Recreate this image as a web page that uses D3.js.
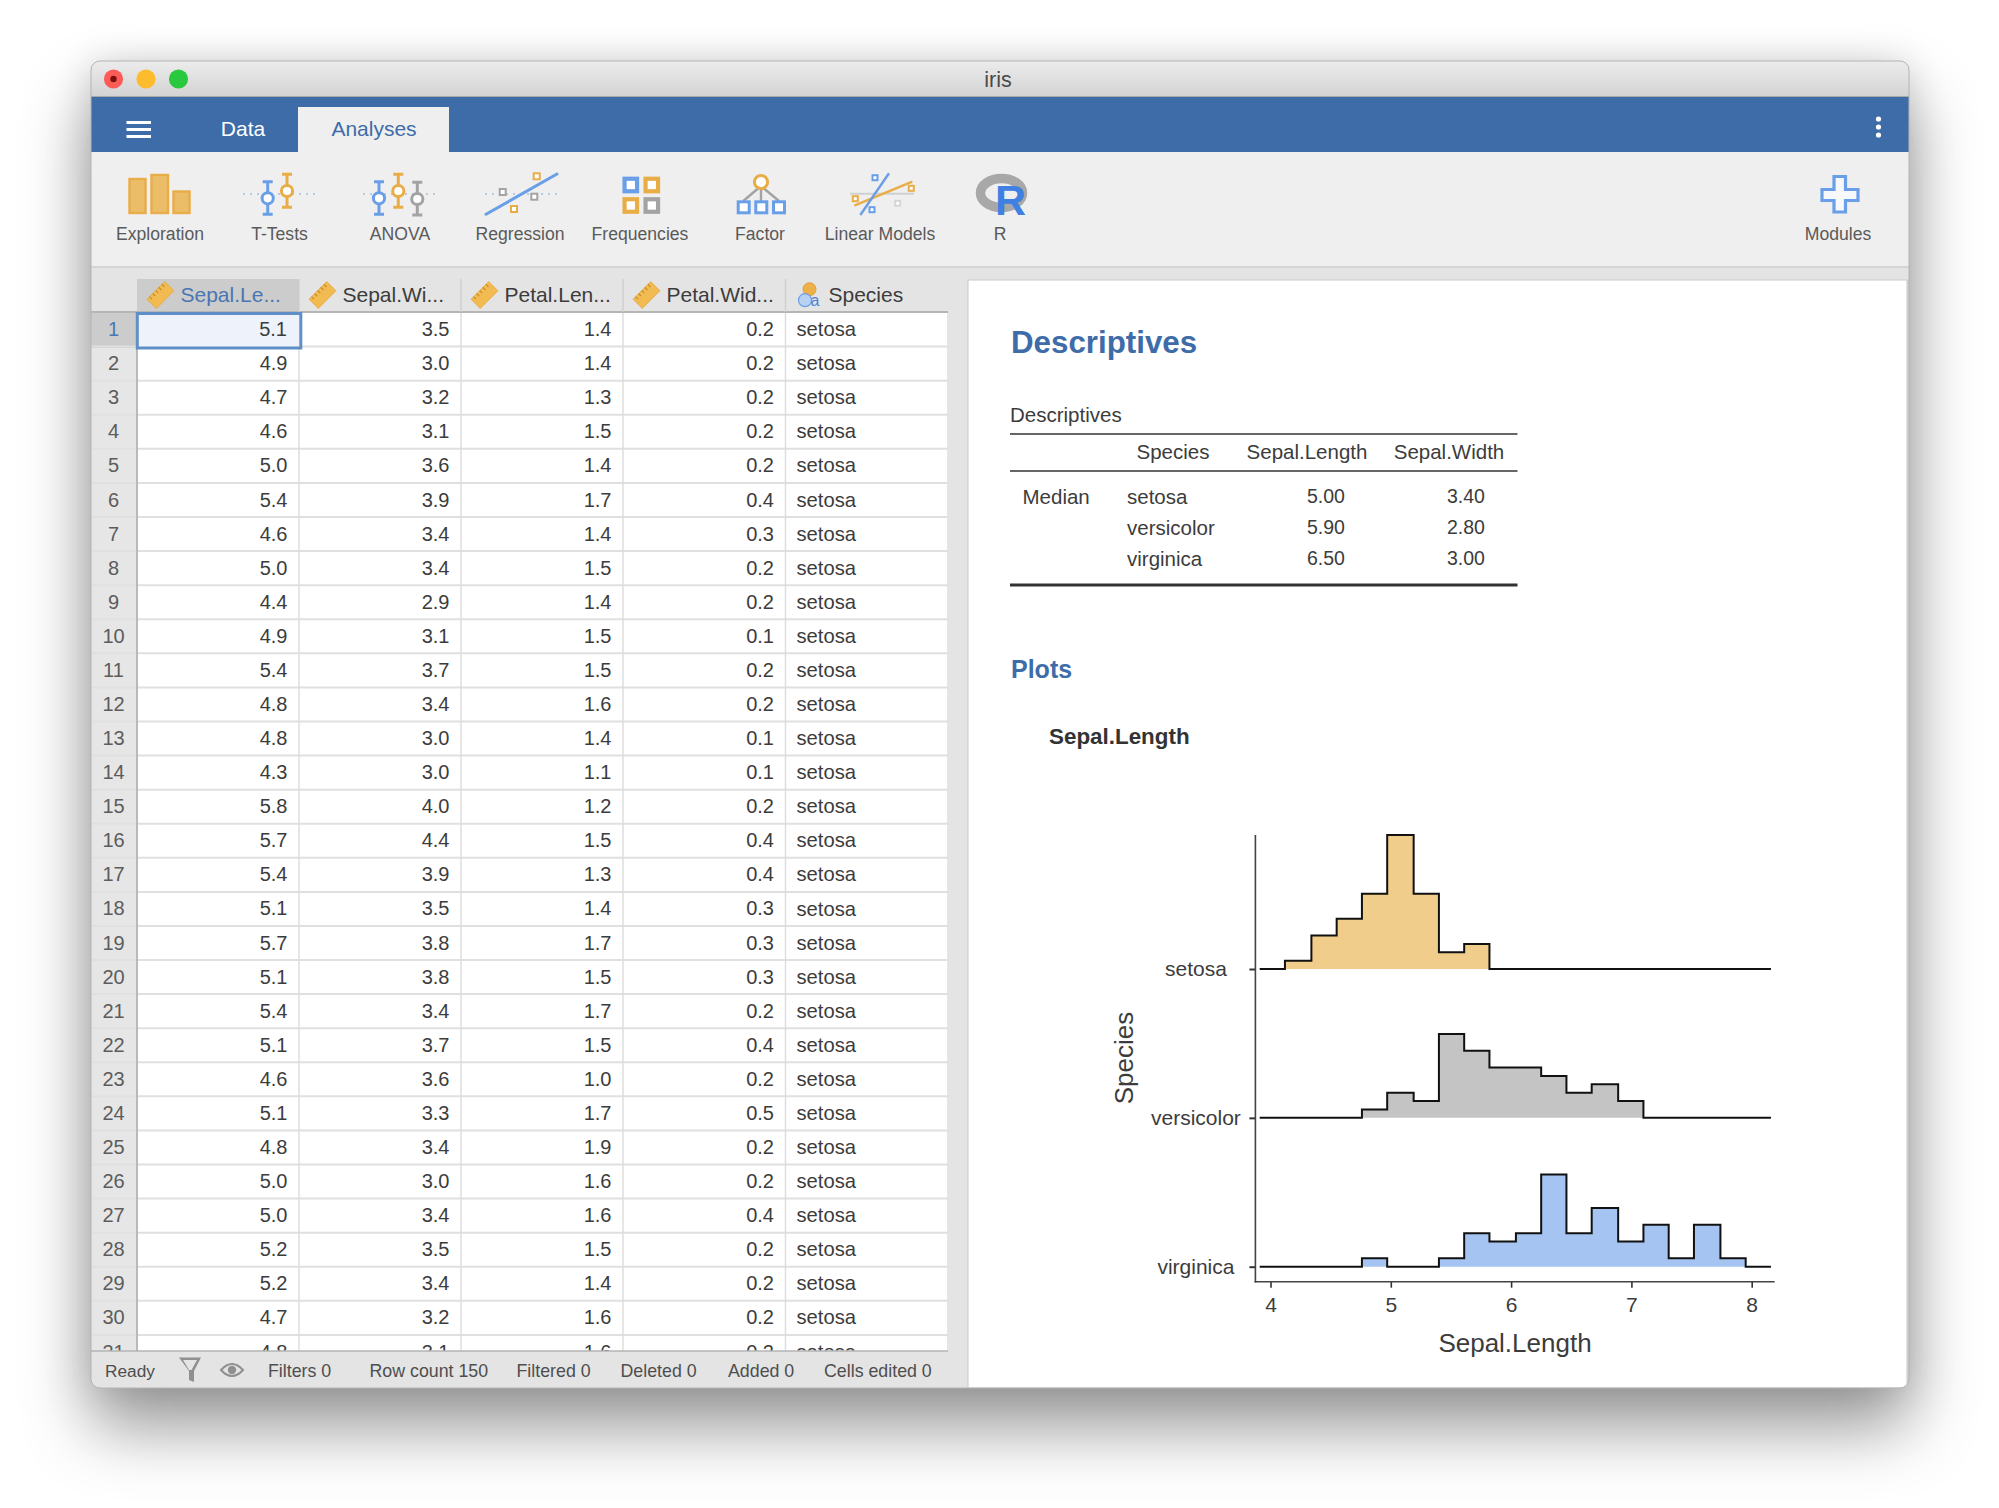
<!DOCTYPE html>
<html>
<head>
<meta charset="utf-8">
<title>iris</title>
<script src="https://cdn.jsdelivr.net/npm/d3@7"></script>
<style>
  html, body { margin: 0; padding: 0; background: #fff; }
  svg { display: block; }
  text { font-family: "Liberation Sans", Arial, sans-serif; }
</style>
</head>
<body>
<div id="app"></div>
<script>
// spreadsheet columns
var columnNames = ["Sepal.Le...", "Sepal.Wi...", "Petal.Len...", "Petal.Wid...", "Species"];
var sepalLength = [5.1,4.9,4.7,4.6,5.0,5.4,4.6,5.0,4.4,4.9,5.4,4.8,4.8,4.3,5.8,5.7,5.4,5.1,5.7,5.1,5.4,5.1,4.6,5.1,4.8,5.0,5.0,5.2,5.2,4.7,4.8];
var sepalWidth  = [3.5,3.0,3.2,3.1,3.6,3.9,3.4,3.4,2.9,3.1,3.7,3.4,3.0,3.0,4.0,4.4,3.9,3.5,3.8,3.8,3.4,3.7,3.6,3.3,3.4,3.0,3.4,3.5,3.4,3.2,3.1];
var petalLength = [1.4,1.4,1.3,1.5,1.4,1.7,1.4,1.5,1.4,1.5,1.5,1.6,1.4,1.1,1.2,1.5,1.3,1.4,1.7,1.5,1.7,1.5,1.0,1.7,1.9,1.6,1.6,1.5,1.4,1.6,1.6];
var petalWidth  = [0.2,0.2,0.2,0.2,0.2,0.4,0.3,0.2,0.2,0.1,0.2,0.2,0.1,0.1,0.2,0.4,0.4,0.3,0.3,0.3,0.2,0.4,0.2,0.5,0.2,0.2,0.4,0.2,0.2,0.2,0.2];

// toolbar + status bar
var toolbarLabels = ["Exploration", "T-Tests", "ANOVA", "Regression", "Frequencies", "Factor", "Linear Models", "R"];
var statusLabels = ["Filters 0", "Row count 150", "Filtered 0", "Deleted 0", "Added 0", "Cells edited 0"];

// descriptives table
var speciesNames = ["setosa", "versicolor", "virginica"];
var medianSepalLength = ["5.00", "5.90", "6.50"];
var medianSepalWidth = ["3.40", "2.80", "3.00"];

// histogram bins
var binEdges = [3.91,4.12,4.34,4.55,4.76,4.97,5.19,5.40,5.61,5.82,6.04,6.25,6.46,6.67,6.89,7.10,7.31,7.52,7.74,7.95,8.16];
var setosaCounts     = [0,1,4,6,9,16,9,2,3,0,0,0,0,0,0,0,0,0,0,0];
var versicolorCounts = [0,0,0,0,1,3,2,10,8,6,6,5,3,4,2,0,0,0,0,0];
var virginicaCounts  = [0,0,0,0,1,0,0,1,4,3,4,11,4,7,3,5,1,5,1,0];
var xTicks = [4, 5, 6, 7, 8];

var BLUE = "#3e6ca8", ORANGE = "#e9ad48", ICONBLUE = "#6a9fe8", GREY = "#a3a3a3", TEXT = "#3c3c3c";
var ridgeFill = { setosa: "#f0cd8b", versicolor: "#c4c4c4", virginica: "#a5c4f1" };
var ridgeCounts = { setosa: setosaCounts, versicolor: versicolorCounts, virginica: virginicaCounts };

var svg = d3.select("#app").append("svg").attr("width", 1999).attr("height", 1508);
var defs = svg.append("defs");

var grad = defs.append("linearGradient").attr("id", "titlebar").attr("x1", 0).attr("x2", 0).attr("y1", 0).attr("y2", 1);
grad.append("stop").attr("offset", "0%").attr("stop-color", "#ececec");
grad.append("stop").attr("offset", "100%").attr("stop-color", "#d3d3d3");

defs.append("clipPath").attr("id", "win").append("rect")
  .attr("x", 91).attr("y", 61).attr("width", 1818).attr("height", 1327).attr("rx", 9);
defs.append("clipPath").attr("id", "gridclip").append("rect")
  .attr("x", 91).attr("y", 312).attr("width", 857).attr("height", 1039);

function rect(g, x, y, w, h, fill) {
  return g.append("rect").attr("x", x).attr("y", y).attr("width", w).attr("height", h).attr("fill", fill);
}
function line(g, x1, y1, x2, y2, stroke, sw) {
  return g.append("line").attr("x1", x1).attr("y1", y1).attr("x2", x2).attr("y2", y2)
    .attr("stroke", stroke).attr("stroke-width", sw);
}
function label(g, x, y, str, size, fill, anchor, weight) {
  return g.append("text").attr("x", x).attr("y", y).attr("dy", "0.36em").text(str)
    .attr("font-size", size).attr("fill", fill)
    .attr("text-anchor", anchor || "start").attr("font-weight", weight || "normal");
}

// window + shadow
rect(svg, 91, 61, 1818, 1327, "#e4e4e4").attr("rx", 9)
  .style("filter", "drop-shadow(0 38px 34px rgba(0,0,0,0.38)) drop-shadow(0 0 18px rgba(0,0,0,0.14))");
var win = svg.append("g").attr("clip-path", "url(#win)");

// title bar
rect(win, 91, 61, 1818, 36, "url(#titlebar)");
line(win, 91, 96.5, 1909, 96.5, "#a9a9a9", 1);
[["#fc5b57", 113.5], ["#fdbc2e", 146], ["#28c83f", 178.5]].forEach(function(d) {
  win.append("circle").attr("cx", d[1]).attr("cy", 79).attr("r", 9.6).attr("fill", d[0]);
});
win.append("circle").attr("cx", 113.5).attr("cy", 79).attr("r", 3.2).attr("fill", "#7c100c");
label(win, 998, 79.5, "iris", 21.5, "#4a4a4a", "middle");

// blue ribbon
rect(win, 91, 97, 1818, 55, BLUE);
[122.5, 129.5, 136.5].forEach(function(y) { line(win, 126.5, y, 151, y, "#fff", 3); });
rect(win, 298, 107, 151, 45, "#efefef");
label(win, 243, 128.5, "Data", 21, "#fff", "middle");
label(win, 374, 128.5, "Analyses", 21, BLUE, "middle");
[119, 127, 135].forEach(function(y) {
  win.append("circle").attr("cx", 1878.5).attr("cy", y).attr("r", 2.6).attr("fill", "#fff");
});

// toolbar
rect(win, 91, 152, 1818, 115, "#efefef");
line(win, 91, 267, 1909, 267, "#d4d4d4", 2);
var labelX = [160, 279.5, 400, 520, 640, 760, 880, 1000];
toolbarLabels.forEach(function(t, i) { label(win, labelX[i], 234, t, 17.6, "#5a5a5a", "middle"); });
label(win, 1838, 234, "Modules", 17.6, "#5a5a5a", "middle");

var icons = win.append("g");
[[129.5, 179, 16, 34], [151.5, 175, 16.5, 38], [173.5, 191.5, 16, 21.5]].forEach(function(b) {
  rect(icons, b[0], b[1], b[2], b[3], "#ecbd69").attr("stroke", ORANGE).attr("stroke-width", 2.4);
});
function dotted(x1, x2, y) {
  line(icons, x1, y, x2, y, "#a9bfd9", 1.6).attr("stroke-dasharray", "2 5");
}
function whisker(x, y1, y2, cy, col) {
  line(icons, x, y1, x, y2, col, 3);
  line(icons, x - 5, y1, x + 5, y1, col, 3);
  line(icons, x - 5, y2, x + 5, y2, col, 3);
  icons.append("circle").attr("cx", x).attr("cy", cy).attr("r", 5.6).attr("fill", "#fff").attr("stroke", col).attr("stroke-width", 3);
}
function sq(cx, cy, s, col, sw) {
  rect(icons, cx - s / 2, cy - s / 2, s, s, "#fff").attr("stroke", col).attr("stroke-width", sw);
}
dotted(243, 316, 194);
whisker(267.7, 181.7, 214.3, 198.3, ICONBLUE);
whisker(287, 174.3, 207.3, 191, ORANGE);
dotted(363, 436, 194);
whisker(379, 181.7, 214.3, 198.3, ICONBLUE);
whisker(398.3, 174.3, 207.3, 191, ORANGE);
whisker(417.3, 182.3, 215, 199, GREY);
// regression
dotted(485, 558, 194);
line(icons, 486, 214.3, 557, 174, ICONBLUE, 3).attr("stroke-linecap", "round");
sq(536.7, 176.3, 6, ORANGE, 2);
sq(502.7, 192, 6, GREY, 2);
sq(534.3, 196.7, 6, GREY, 2);
sq(514, 209, 6, ORANGE, 2);
// frequencies
sq(630.8, 185, 12.5, ICONBLUE, 4.2);
sq(651.8, 185, 12.5, ORANGE, 4.2);
sq(630.8, 205.5, 12.5, ORANGE, 4.2);
sq(651.8, 205.5, 12.5, GREY, 4.2);
// factor
[743.3, 761, 779].forEach(function(x) { line(icons, 761, 186, x, 201, GREY, 2.4); });
[743.7, 761.3, 779].forEach(function(x) { sq(x, 207.3, 11, ICONBLUE, 3); });
icons.append("circle").attr("cx", 761).attr("cy", 182).attr("r", 6.6).attr("fill", "#fff").attr("stroke", ORANGE).attr("stroke-width", 3);
// linear models
line(icons, 850, 193.7, 914, 193.7, "#d0d0d0", 2);
line(icons, 854.3, 205.7, 912.3, 181.7, ORANGE, 2.4);
line(icons, 860.3, 215, 889, 173.3, ICONBLUE, 2.4);
sq(875, 177.7, 5, ICONBLUE, 2);
sq(911.3, 188.3, 5, ORANGE, 2);
sq(855.3, 198.7, 5, ORANGE, 2);
sq(872, 209.7, 5, ICONBLUE, 2);
sq(897.7, 203.3, 5, "#d6d6d6", 2);
// R
icons.append("ellipse").attr("cx", 1001.5).attr("cy", 193).attr("rx", 21).attr("ry", 14.5)
  .attr("fill", "none").attr("stroke", "#a8a8a8").attr("stroke-width", 9.5);
icons.append("text").attr("x", 995).attr("y", 215).text("R").attr("font-size", 43)
  .attr("font-weight", "bold").attr("fill", "#3f80e2");
// modules
icons.append("path").attr("fill", "#f6f8fc").attr("stroke", ICONBLUE).attr("stroke-width", 3.2)
  .attr("d", "M1834 176.5H1845.5V189.5H1858V200.5H1845.5V212H1834V200.5H1822V189.5H1834Z");

// data grid
var grid = win.append("g");
var colEdges = [137, 299, 461, 623, 785.5, 948];
var rowY = d3.scaleLinear().domain([0, 1]).range([328.9, 362.98]);
rect(grid, 137, 279, 811, 33, "#e4e4e4");
rect(grid, 137, 279, 162, 32, "#cccccc");

var body = grid.append("g").attr("clip-path", "url(#gridclip)");
rect(body, 137, 312, 811, 1039, "#fff");
rect(body, 91, 312, 46, 1039, "#e6e6e6");
rect(body, 91, 312, 46, 36, "#cccccc");
sepalLength.forEach(function(v, i) {
  var y = rowY(i);
  line(body, 91, y + 17.7, 948, y + 17.7, "#e0e0e0", 2);
  label(body, 113.5, y, i + 1, 20, i == 0 ? "#4a76b3" : "#5c5c5c", "middle");
  [sepalLength, sepalWidth, petalLength, petalWidth].forEach(function(col, c) {
    label(body, colEdges[c + 1] - 11.5, y, col[i].toFixed(1), 20, TEXT, "end");
  });
  label(body, 796.5, y, "setosa", 20.2, TEXT);
});
colEdges.forEach(function(x, i) { line(body, x, 312, x, 1351, i == 0 ? "#b9b9b9" : "#dcdcdc", i == 0 ? 2 : 1.4); });
line(grid, 91, 312, 948, 312, "#b5b5b5", 2);

// selected cell
rect(grid, 137.3, 313.5, 163.5, 34.5, "#eef2fa").attr("stroke", "#5f8fc6").attr("stroke-width", 3);
label(grid, 287, rowY(0), sepalLength[0].toFixed(1), 20, TEXT, "end");

// column headers
var rulerY = 294.2;
columnNames.forEach(function(name, i) {
  var x = colEdges[i];
  if (i > 0) line(grid, x, 279, x, 312, "#cfcfcf", 1.4);
  var tx = x + 43.5;
  if (i < 4) {
    var r = grid.append("g").attr("transform", "translate(" + (x + 23.5) + "," + (rulerY + 0.8) + ") rotate(-45)");
    rect(r, -12.5, -6.5, 25, 13, "#f1bb52").attr("stroke", "#e6a93c").attr("stroke-width", 0.8);
    d3.range(-9, 11, 4.4).forEach(function(d) { line(r, d, -6.5, d, -3, "#bc8420", 1); });
  } else {
    grid.append("circle").attr("cx", x + 24).attr("cy", rulerY - 5).attr("r", 6.5).attr("fill", "#eeb149").attr("stroke", "#d9982c").attr("stroke-width", 0.8);
    grid.append("circle").attr("cx", x + 19.5).attr("cy", rulerY + 6).attr("r", 6.5).attr("fill", "#b9d2f4").attr("stroke", ICONBLUE).attr("stroke-width", 1.2);
    label(grid, x + 25, rulerY + 6, "a", 16, "#4a82d6");
    tx = x + 43;
  }
  label(grid, tx, rulerY, name, 21, i == 0 ? "#4a76b3" : TEXT);
});

// status bar
line(win, 91, 1351, 948, 1351, "#b5b5b5", 1.5);
label(win, 105, 1370.5, "Ready", 17.3, "#4e4e4e");
win.append("path").attr("fill", "#8f8f8f")
  .attr("d", "M179 1357.5H201L194 1371V1382L189 1380V1371ZM183 1360L189 1370H191.5L197 1360Z");
win.append("path").attr("fill", "none").attr("stroke", "#8f8f8f").attr("stroke-width", 2)
  .attr("d", "M221 1370Q232 1358 243 1370Q232 1382 221 1370Z");
win.append("circle").attr("cx", 232).attr("cy", 1370).attr("r", 4.2).attr("fill", "#8f8f8f");
var statusX = [268, 369.5, 516.5, 620.5, 728, 824];
statusLabels.forEach(function(t, i) { label(win, statusX[i], 1370.5, t, 17.8, "#4e4e4e"); });

// results panel
rect(win, 968, 280, 939, 1108, "#fff").attr("stroke", "#c9c9c9").attr("stroke-width", 1);
rect(win, 1907, 280, 2, 1108, "#d0d0d0");
label(win, 1011, 342, "Descriptives", 31.3, BLUE, "start", "bold");
label(win, 1010, 414.5, "Descriptives", 20.5, TEXT);
line(win, 1010, 434, 1517.5, 434, "#333", 1.6);
line(win, 1010, 471, 1517.5, 471, "#333", 1.6);
line(win, 1010, 585, 1517.5, 585, "#333", 3);
label(win, 1173, 451.5, "Species", 20.5, TEXT, "middle");
label(win, 1307, 451.5, "Sepal.Length", 20.5, TEXT, "middle");
label(win, 1449, 451.5, "Sepal.Width", 20.5, TEXT, "middle");
label(win, 1022.5, 497, "Median", 20.5, TEXT);
var tableY = d3.scaleLinear().domain([0, 2]).range([496.3, 557.5]);
speciesNames.forEach(function(s, i) {
  label(win, 1127, tableY(i) + 0.7, s, 20.5, TEXT);
  label(win, 1326, tableY(i), medianSepalLength[i], 19.5, TEXT, "middle");
  label(win, 1466, tableY(i), medianSepalWidth[i], 19.5, TEXT, "middle");
});
label(win, 1011, 669, "Plots", 25, BLUE, "start", "bold");
label(win, 1049, 736, "Sepal.Length", 22.4, "#333", "start", "bold");

// ridge histogram
var plot = win.append("g");
var x = d3.scaleLinear().domain([4, 8]).range([1270.5, 1751.7]);
var y = d3.scalePoint().domain(speciesNames).range([969, 1266.7]);
var h = d3.scaleLinear().domain([0, 16]).range([0, 134]);

speciesNames.forEach(function(s) {
  var counts = ridgeCounts[s];
  var pts = binEdges.map(function(e, i) { return [e, i < counts.length ? counts[i] : counts[counts.length - 1]]; });
  plot.append("path").datum(pts).attr("fill", ridgeFill[s])
    .attr("d", d3.area().curve(d3.curveStepAfter)
      .x(function(d) { return x(d[0]); })
      .y0(y(s))
      .y1(function(d) { return y(s) - h(d[1]); }));
  plot.append("path").datum(pts).attr("fill", "none").attr("stroke", "#111").attr("stroke-width", 2)
    .attr("d", d3.line().curve(d3.curveStepAfter)
      .x(function(d) { return x(d[0]); })
      .y(function(d) { return y(s) - h(d[1]); }));
});

var xAxis = plot.append("g").attr("transform", "translate(0,1281.7)")
  .call(d3.axisBottom(x).tickValues(xTicks).tickSize(6).tickSizeOuter(0).tickPadding(9).tickFormat(d3.format("d")));
xAxis.select(".domain").remove();
xAxis.selectAll("line").attr("stroke", "#333").attr("stroke-width", 1.6);
xAxis.selectAll("text").attr("font-size", 21).attr("fill", TEXT).attr("font-family", null);

var yAxis = plot.append("g").attr("transform", "translate(1255.4,0)")
  .call(d3.axisLeft(y).tickSize(6).tickSizeOuter(0));
yAxis.select(".domain").remove();
yAxis.selectAll("line").attr("stroke", "#333").attr("stroke-width", 2);
yAxis.selectAll("text").attr("font-size", 21).attr("fill", TEXT).attr("font-family", null)
  .attr("text-anchor", "middle").attr("x", -59.5);

line(plot, 1255.4, 835, 1255.4, 1282.5, "#444", 1.6);
line(plot, 1254.6, 1281.7, 1774.7, 1281.7, "#444", 1.6);

label(plot, 1515, 1343, "Sepal.Length", 26, TEXT, "middle");
plot.append("text").attr("transform", "translate(1123.6,1058) rotate(-90)").attr("dy", "0.36em")
  .attr("text-anchor", "middle").attr("font-size", 26).attr("fill", TEXT).text("Species");

// thin window outline on top of everything
rect(svg, 91, 61, 1818, 1327, "none").attr("rx", 9).attr("stroke", "#b4b4b4").attr("stroke-width", 1);
</script>
</body>
</html>
